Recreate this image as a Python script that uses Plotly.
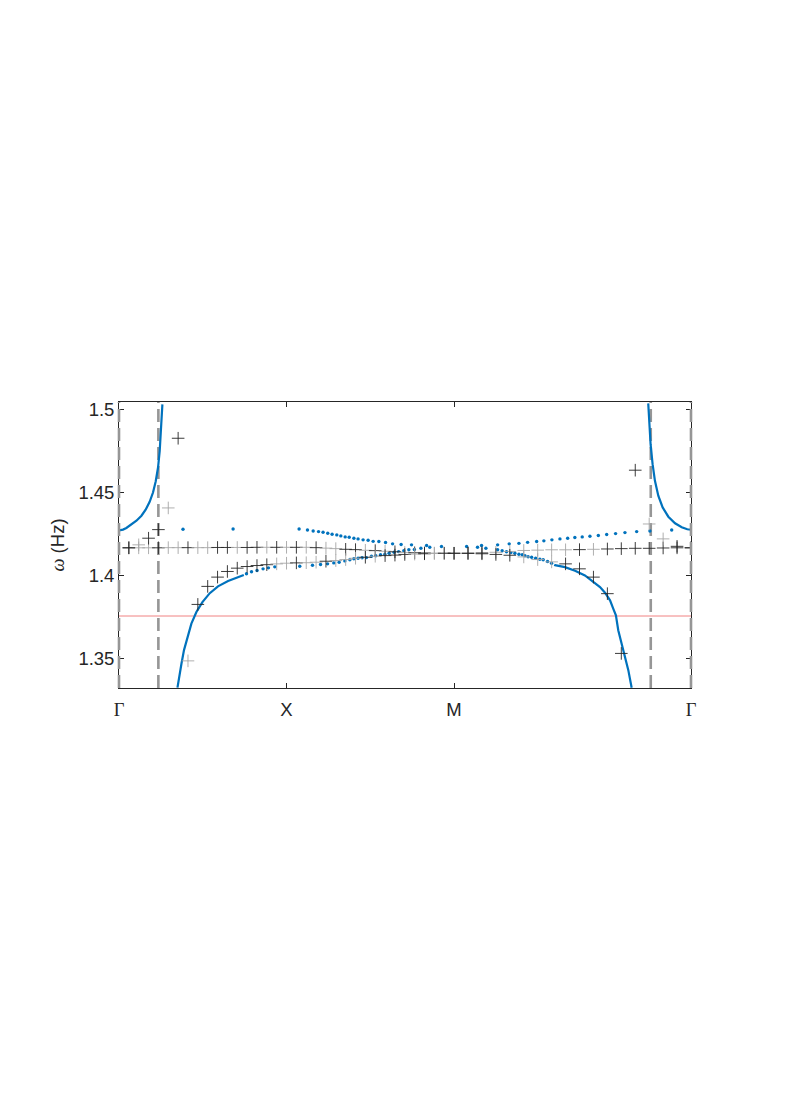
import plotly.graph_objects as go

# k-path: Gamma -> X -> M -> Gamma, 17 steps per leg
path_nodes = [0.0, 1.0, 2.0, 2.0 + 2 ** 0.5]
path_labels = ["<span style='font-family:Liberation Serif'>Γ</span>", "X", "M",
               "<span style='font-family:Liberation Serif'>Γ</span>"]
n_steps = 17
k_pts = []
for a, b in zip(path_nodes[:-1], path_nodes[1:]):
    k_pts += [a + (b - a) * i / n_steps for i in range(1, n_steps + 1)]

# measured frequencies (crosses), upper row and lower band
omega_row = [1.4167, 1.4167, 1.4167, 1.4167, 1.4168, 1.4168, 1.4168, 1.4168, 1.4168, 1.4169,
             1.4169, 1.4169, 1.4169, 1.4170, 1.4170, 1.4170, 1.4170,
             1.4170, 1.4170, 1.4168, 1.4165, 1.4162, 1.4158, 1.4156, 1.4152, 1.4150, 1.4146,
             1.4143, 1.4139, 1.4137, 1.4136, 1.4135, 1.4135, 1.4134,
             1.4134, 1.4136, 1.4140, 1.4145, 1.4151, 1.4153, 1.4155, 1.4155, 1.4156, 1.4158,
             1.4160, 1.4162, 1.4164, 1.4164, 1.4166, 1.4167, 1.4167]
omega_band = [1.4167, 1.4185, 1.4225, 1.4277, 1.4408, 1.4829, 1.3484, 1.3825, 1.3934, 1.3990,
              1.4024, 1.4044, 1.4054, 1.4060, 1.4065, 1.4070, 1.4074,
              1.4076, 1.4077, 1.4080, 1.4086, 1.4090, 1.4096, 1.4104, 1.4110, 1.4116, 1.4120,
              1.4123, 1.4127, 1.4129, 1.4131, 1.4133, 1.4134, 1.4134,
              1.4134, 1.4131, 1.4127, 1.4122, 1.4112, 1.4096, 1.4082, 1.4070, 1.4040, 1.3990,
              1.3890, 1.3529, 1.4636, 1.4311, 1.4221, 1.4176, 1.4167]
row_shade = "kggkggkggkkgkkgkg" + "kgkggkkgkgkgkkggk" + "kkggggggkgkkkkkkk"
band_shade = "kgkkgkgkkkkkkkkgg" + "kggkgggkgkkkgkgkk" + "kkkkgggkkkkkkggkk"

# theory curves (solid parts)
ul_k = [0.0, 0.024, 0.044, 0.074, 0.104, 0.134, 0.159, 0.183, 0.203, 0.219, 0.233, 0.243, 0.251, 0.259]
ul_w = [1.4272, 1.4277, 1.4287, 1.4307, 1.4331, 1.4361, 1.4397, 1.4445, 1.4501, 1.4568, 1.4652, 1.4752, 1.4873, 1.5034]
ur_k = [3.159, 3.165, 3.173, 3.185, 3.199, 3.219, 3.245, 3.279, 3.319, 3.359, 3.392, 3.414]
ur_w = [1.5040, 1.4913, 1.4793, 1.4672, 1.4572, 1.4482, 1.4411, 1.4355, 1.4315, 1.4291, 1.4279, 1.4276]
ll_k = [0.349, 0.358, 0.373, 0.388, 0.408, 0.432, 0.462, 0.498, 0.542, 0.591, 0.651, 0.721, 0.745]
ll_w = [1.3322, 1.3388, 1.3468, 1.3549, 1.3629, 1.3709, 1.3779, 1.3839, 1.3893, 1.3934, 1.3966, 1.3994, 1.4003]
lr_k = [2.598, 2.602, 2.662, 2.722, 2.781, 2.831, 2.871, 2.901, 2.931, 2.950, 2.966, 2.980, 3.000, 3.020, 3.040, 3.060]
lr_w = [1.4064, 1.4062, 1.4050, 1.4028, 1.4000, 1.3964, 1.3930, 1.3896, 1.3850, 1.3800, 1.3759, 1.3669,
        1.3589, 1.3508, 1.3428, 1.3322]

# theory curves (sparse samples)
dot_k = [0.382, 0.681,
         0.761, 0.791, 0.824, 0.860, 0.892, 0.930,
         1.079, 1.155, 1.203, 1.245, 1.282, 1.314, 1.348, 1.378, 1.402, 1.427, 1.451, 1.477,
         1.507, 1.533, 1.561, 1.587, 1.612, 1.642, 1.669, 1.700, 1.730,
         1.075, 1.125, 1.159, 1.191, 1.218, 1.246, 1.272, 1.300, 1.324, 1.350, 1.374, 1.402,
         1.427, 1.457, 1.487, 1.517, 1.551, 1.591, 1.633, 1.684, 1.746,
         1.763, 1.802, 1.836, 1.855, 1.925, 2.075, 2.140, 2.164, 2.190, 2.260, 2.260, 2.287,
         2.329, 2.387, 2.439, 2.493, 2.536, 2.584, 2.632, 2.678, 2.721, 2.765, 2.811, 2.861,
         2.911, 2.964, 3.020, 3.090, 3.169, 3.299,
         2.313, 2.339, 2.363, 2.387, 2.407, 2.423, 2.442, 2.463, 2.487, 2.512, 2.532, 2.558,
         2.582]
dot_w = [1.4279, 1.4281,
         1.4010, 1.4022, 1.4030, 1.4040, 1.4046, 1.4052,
         1.4056, 1.4062, 1.4066, 1.4070, 1.4076, 1.4080, 1.4088, 1.4095, 1.4101, 1.4104, 1.4107, 1.4108,
         1.4116, 1.4119, 1.4125, 1.4128, 1.4134, 1.4140, 1.4144, 1.4150, 1.4155,
         1.4281, 1.4275, 1.4269, 1.4265, 1.4261, 1.4255, 1.4249, 1.4245, 1.4239, 1.4233, 1.4231, 1.4225,
         1.4221, 1.4215, 1.4213, 1.4206, 1.4205, 1.4199, 1.4191, 1.4187, 1.4185,
         1.4157, 1.4164, 1.4181, 1.4170, 1.4175, 1.4175, 1.4170, 1.4181, 1.4164, 1.4185, 1.4155, 1.4149,
         1.4191, 1.4194, 1.4200, 1.4205, 1.4209, 1.4215, 1.4221, 1.4225, 1.4229, 1.4233, 1.4237, 1.4241,
         1.4247, 1.4253, 1.4259, 1.4265, 1.4269, 1.4275,
         1.4143, 1.4138, 1.4134, 1.4128, 1.4125, 1.4119, 1.4113, 1.4110, 1.4104, 1.4098, 1.4095, 1.4084,
         1.4074]

gap_edges = [0.235, 3.174]   # dashed verticals inside the plot
omega_ref = 1.3755

blue = "#0072BD"
shade = {"k": "#262626", "g": "#a6a6a6"}

fig = go.Figure()

for k, w in [(ul_k, ul_w), (ur_k, ur_w), (ll_k, ll_w), (lr_k, lr_w)]:
    fig.add_trace(go.Scatter(x=k, y=w, mode="lines", line=dict(color=blue, width=2.2)))

fig.add_trace(go.Scatter(x=dot_k, y=dot_w, mode="markers",
                         marker=dict(color=blue, size=3.4, line=dict(width=0))))

for w, sh in [(omega_row, row_shade), (omega_band, band_shade)]:
    fig.add_trace(go.Scatter(
        x=k_pts, y=w, mode="markers",
        marker=dict(symbol="cross-thin", size=9,
                    line=dict(width=0.9, color=[shade[c] for c in sh]))))

# dashed verticals
dash_style = dict(color="rgb(150,150,150)", width=2.6, dash="13px,6px")
for xd in [0, 1]:
    fig.add_shape(type="line", xref="x domain", yref="y domain", x0=xd, x1=xd, y0=0, y1=1,
                  line=dash_style, layer="above")
for xg in gap_edges:
    fig.add_shape(type="line", xref="x", yref="y domain", x0=xg, x1=xg, y0=0, y1=1,
                  line=dash_style, layer="below")

fig.add_shape(type="line", xref="x domain", yref="y", x0=0, x1=1, y0=omega_ref, y1=omega_ref,
              line=dict(color="rgb(240,130,130)", width=1), layer="below")

axis_common = dict(showgrid=False, zeroline=False, showline=True, mirror="ticks",
                   linecolor="#262626", linewidth=0.8, ticks="inside", ticklen=5,
                   tickcolor="#262626", tickwidth=0.8,
                   tickfont=dict(family="Liberation Sans, Arial", size=18.5, color="#262626"))

# page body adds an 8px offset, so margins are shifted to compensate
fig.update_layout(
    width=785, height=1111,
    margin=dict(l=111, r=102, t=394, b=431),
    plot_bgcolor="white", paper_bgcolor="white",
    showlegend=False,
    xaxis=dict(range=[0, path_nodes[-1]], tickmode="array", tickvals=path_nodes,
               ticktext=path_labels, ticklabelstandoff=5, **axis_common),
    yaxis=dict(range=[1.332, 1.5048], tickmode="array", tickvals=[1.35, 1.4, 1.45, 1.5],
               ticktext=["1.35", "1.4", "1.45", "1.5"],
               title=dict(text="<span style='font-family:Liberation Serif'><i>ω</i></span> (Hz)",
                          font=dict(family="Liberation Sans, Arial", size=18.5, color="#262626"),
                          standoff=8),
               **axis_common),
)

fig.write_html("out.html")
